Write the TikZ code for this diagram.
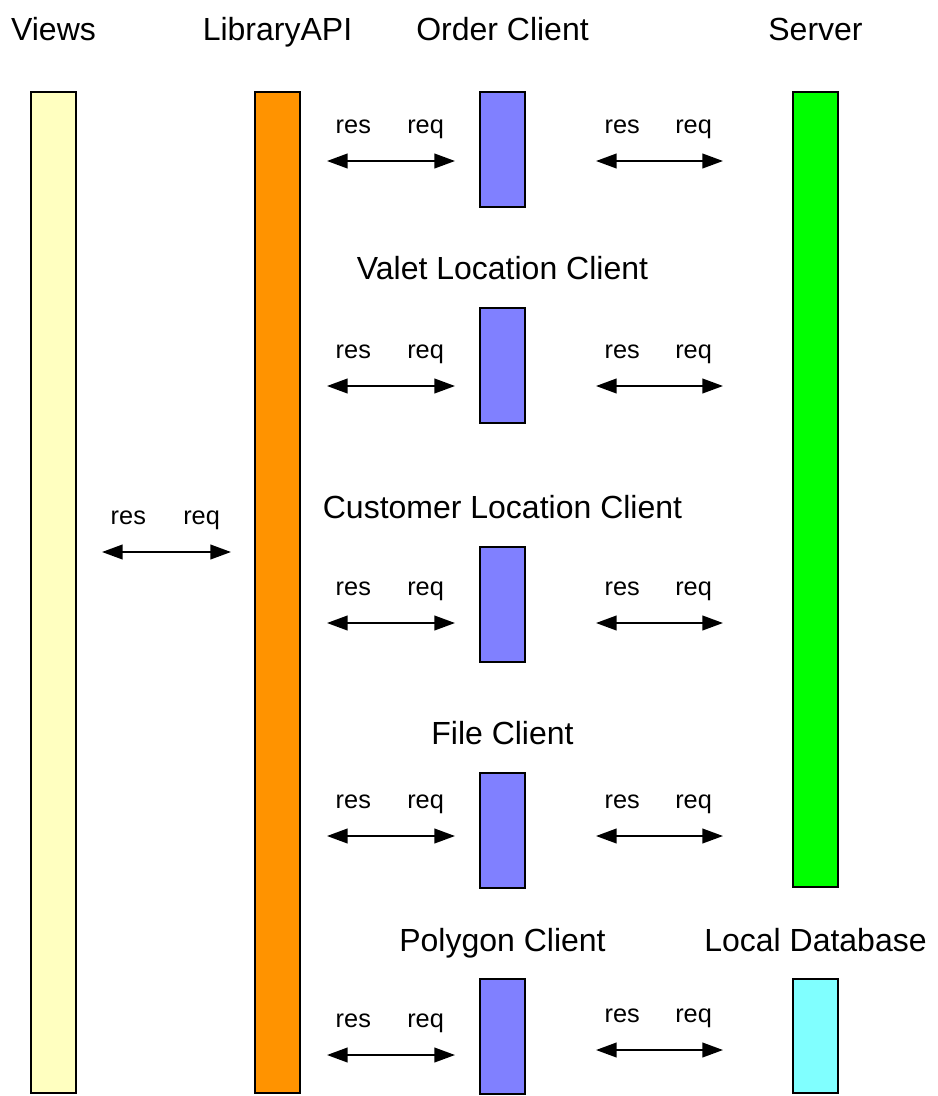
\documentclass[tikz,border=0pt]{standalone}
\usepackage{fontspec}
\setmainfont{Liberation Sans}
\usetikzlibrary{arrows.meta,positioning}
\definecolor{ViewsYellow}{HTML}{FFFFC0}
\definecolor{ApiOrange}{HTML}{FF9300}
\definecolor{ClientBlue}{HTML}{8080FF}
\definecolor{ServerGreen}{HTML}{00FF00}
\definecolor{LocalCyan}{HTML}{80FFFF}

\begin{document}
\begin{tikzpicture}[
  x=0.75pt, y=-0.75pt,
  lane/.style={draw=black, line width=1.5pt, minimum width=33.75pt, anchor=north, inner sep=0pt},
  client/.style={lane, fill=ClientBlue, minimum height=86.25pt},
  title/.style={font=\fontsize{24}{28}\selectfont, anchor=base, inner sep=0pt},
  lbl/.style={font=\fontsize{19}{23}\selectfont, anchor=base, inner sep=0pt, yshift=20.5pt},
  link/.style={{Triangle[length=15.5pt,width=11pt]}-{Triangle[length=15.5pt,width=11pt]}, line width=1.5pt},
  apilink/.style={link, shorten <=19.5pt, shorten >=18pt},
  srvlink/.style={link, shorten <=52.5pt, shorten >=51.75pt}
]
\useasboundingbox (0,0) rectangle (938,1096);

% lanes
\node[lane, fill=ViewsYellow, minimum height=750.75pt] (views) at (53.5,91) {};
\node[lane, fill=ApiOrange, minimum height=750.75pt] (api) at (277.5,91) {};
\node[lane, fill=ServerGreen, minimum height=596.25pt] (server) at (815.5,91) {};
\node[lane, fill=LocalCyan, minimum height=85.5pt] (localdb) at (815.5,978) {};

% clients
\node[client] (order) at (502.5,91) {};
\node[client] (valet) at (502.5,307) {};
\node[client] (customer) at (502.5,546) {};
\node[client] (file) at (502.5,772) {};
\node[client] (polygon) at (502.5,978) {};

% titles
\node[title] (viewsT) at ([yshift=38.25pt]views.north) {Views};
\node[title] (apiT) at ([yshift=38.25pt]api.north) {LibraryAPI};
\node[title] (orderT) at ([yshift=38.25pt]order.north) {Order Client};
\node[title] (serverT) at ([yshift=38.25pt]server.north) {Server};
\node[title] (valetT) at ([yshift=21pt]valet.north) {Valet Location Client};
\node[title] (customerT) at ([yshift=21pt]customer.north) {Customer Location Client};
\node[title] (fileT) at ([yshift=21pt]file.north) {File Client};
\node[title] (polygonT) at ([yshift=20.25pt]polygon.north) {Polygon Client};
\node[title] (localdbT) at ([yshift=20.25pt]localdb.north) {Local Database};

% rows of the arrows
\coordinate (rowV) at (0,552);
\coordinate (row1) at (0,161);
\coordinate (row2) at (0,386);
\coordinate (row3) at (0,623);
\coordinate (row4) at (0,836);
\coordinate (row5) at (0,1055);
\coordinate (row5s) at (0,1050);

% views <-> api
\draw[link, shorten <=18.75pt, shorten >=17.25pt] (views.east |- rowV) -- (api.west |- rowV)
  node[lbl, pos=0.29] (resV) {res} node[lbl, pos=0.704] (reqV) {req};

% api <-> clients
\draw[apilink] (api.east |- row1) -- (order.west |- row1)
  node[lbl, pos=0.294] (resA1) {res} node[lbl, pos=0.70] (reqA1) {req};
\draw[apilink] (api.east |- row2) -- (valet.west |- row2)
  node[lbl, pos=0.294] (resA2) {res} node[lbl, pos=0.70] (reqA2) {req};
\draw[apilink] (api.east |- row3) -- (customer.west |- row3)
  node[lbl, pos=0.294] (resA3) {res} node[lbl, pos=0.70] (reqA3) {req};
\draw[apilink] (api.east |- row4) -- (file.west |- row4)
  node[lbl, pos=0.294] (resA4) {res} node[lbl, pos=0.70] (reqA4) {req};
\draw[apilink] (api.east |- row5) -- (polygon.west |- row5)
  node[lbl, pos=0.294] (resA5) {res} node[lbl, pos=0.70] (reqA5) {req};

% clients <-> server / local db
\draw[srvlink] (order.east |- row1) -- (server.west |- row1)
  node[lbl, pos=0.362] (resS1) {res} node[lbl, pos=0.63] (reqS1) {req};
\draw[srvlink] (valet.east |- row2) -- (server.west |- row2)
  node[lbl, pos=0.362] (resS2) {res} node[lbl, pos=0.63] (reqS2) {req};
\draw[srvlink] (customer.east |- row3) -- (server.west |- row3)
  node[lbl, pos=0.362] (resS3) {res} node[lbl, pos=0.63] (reqS3) {req};
\draw[srvlink] (file.east |- row4) -- (server.west |- row4)
  node[lbl, pos=0.362] (resS4) {res} node[lbl, pos=0.63] (reqS4) {req};
\draw[srvlink] (polygon.east |- row5s) -- (localdb.west |- row5s)
  node[lbl, pos=0.362] (resS5) {res} node[lbl, pos=0.63] (reqS5) {req};
\end{tikzpicture}
\end{document}
